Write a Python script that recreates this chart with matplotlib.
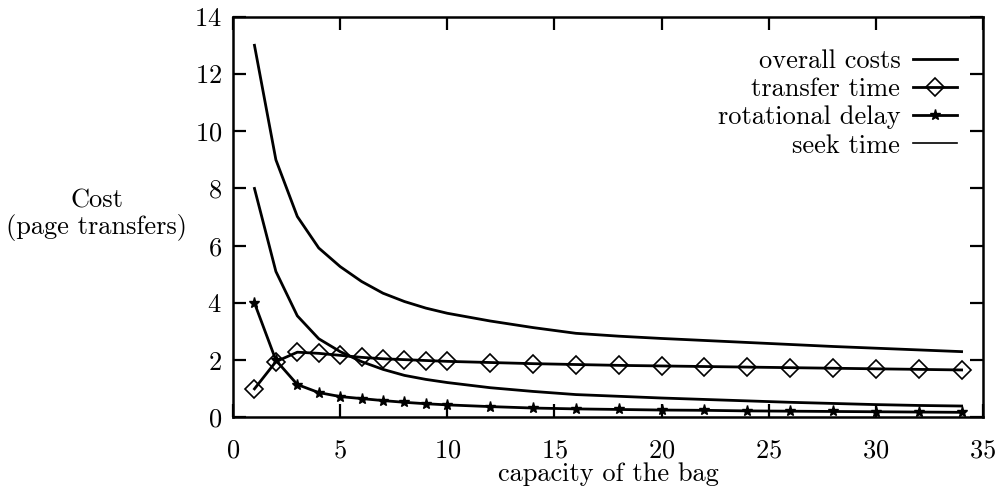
import matplotlib
matplotlib.use('Agg')
import matplotlib.pyplot as plt
import numpy as np

plt.rcParams['font.family'] = 'cmr10'
plt.rcParams['mathtext.fontset'] = 'cm'
plt.rcParams['axes.formatter.use_mathtext'] = True

# bag capacity and cost components (page transfers)
capacity = [1, 2, 3, 4, 5, 6, 7, 8, 9, 10, 12, 14, 16, 18, 20, 22, 24, 26, 28, 30, 32, 34]
overall = [13.0, 9.0, 7.02, 5.92, 5.27, 4.75, 4.34, 4.05, 3.82, 3.64, 3.37, 3.14,
           2.94, 2.84, 2.76, 2.69, 2.62, 2.55, 2.48, 2.42, 2.36, 2.3]
transfer = [1.0, 1.95, 2.28, 2.24, 2.17, 2.1, 2.05, 2.02, 1.99, 1.96, 1.92, 1.88,
            1.85, 1.82, 1.8, 1.78, 1.76, 1.74, 1.72, 1.7, 1.68, 1.66]
rotational = [4.0, 2.0, 1.15, 0.87, 0.73, 0.66, 0.59, 0.53, 0.48, 0.44, 0.38, 0.33,
              0.3, 0.28, 0.26, 0.25, 0.23, 0.22, 0.21, 0.2, 0.19, 0.18]
seek = [8.0, 5.1, 3.55, 2.75, 2.3, 1.95, 1.68, 1.47, 1.33, 1.22, 1.04, 0.91,
        0.8, 0.74, 0.68, 0.63, 0.58, 0.53, 0.49, 0.45, 0.42, 0.4]

fig = plt.figure(figsize=(9.98, 4.9), dpi=100)
ax = fig.add_axes([0.2335, 0.148, 0.7515, 0.818])

fs = 19
lw = 2.0
ax.plot(capacity, overall, color='k', lw=lw, label='overall costs')
ax.plot(capacity, transfer, color='k', lw=lw, marker='D', ms=9, mfc='none',
        mew=1.2, label='transfer time')
ax.plot(capacity, rotational, color='k', lw=lw, marker='*', ms=8,
        label='rotational delay')
ax.plot(capacity, seek, color='k', lw=lw, label='seek time')

ax.set_xlim(0, 35)
ax.set_ylim(0, 14)
ax.set_xticks(np.arange(0, 36, 5))
ax.set_yticks(np.arange(0, 15, 2))
ax.tick_params(direction='in', length=9.5, width=1.6, top=True, right=True,
               labelsize=fs)
ax.tick_params(axis='x', pad=15)
ax.tick_params(axis='y', pad=8)
for s in ax.spines.values():
    s.set_linewidth(1.8)

ax.set_xlabel('capacity of the bag', fontsize=fs, labelpad=0)
ax.set_ylabel('Cost\n(page transfers)', fontsize=fs, rotation=0,
              ha='center', va='center', labelpad=0, linespacing=1.05)
ax.yaxis.set_label_coords(-0.182, 0.505)

leg = ax.legend(loc='upper right', frameon=False, markerfirst=False, fontsize=fs,
                numpoints=1, handlelength=1.65, handletextpad=0.5,
                labelspacing=0.17, borderaxespad=0.5, bbox_to_anchor=(0.997, 0.978))
leg.get_lines()[3].set_linewidth(1.2)

fig.savefig('out.png', dpi=100)
